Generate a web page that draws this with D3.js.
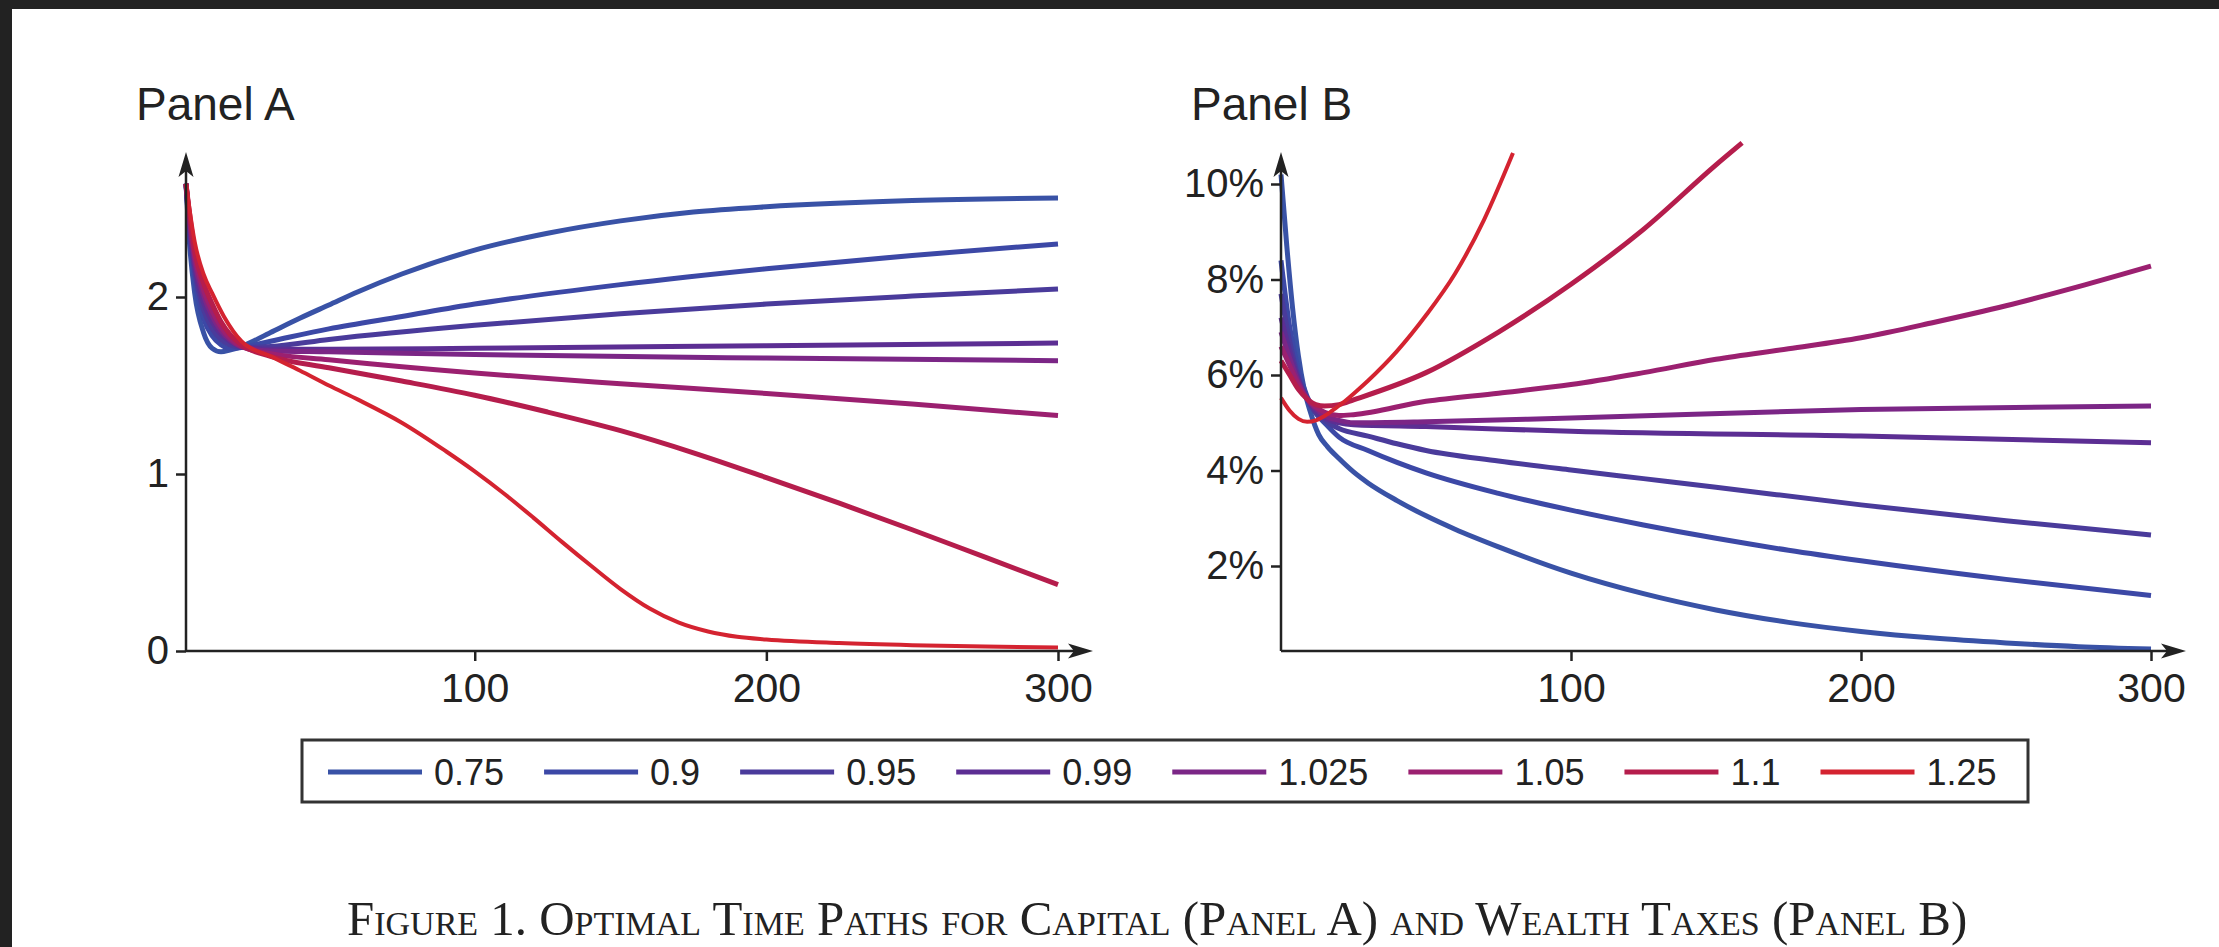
<!DOCTYPE html>
<html><head><meta charset="utf-8">
<script src="https://cdn.jsdelivr.net/npm/d3@7"></script>
<style>
html,body{margin:0;padding:0;background:#fff;}
svg{display:block;}
</style></head>
<body>
<svg id="chart" width="2219" height="947"></svg>
<script>
// ---------- DATA ----------
const seriesNames = ["0.75","0.9","0.95","0.99","1.025","1.05","1.1","1.25"];
const seriesColors = ["#3952a6","#3c48a6","#4a3b9b","#5c2e93","#7b2686","#9b2070","#b51d4c","#d42330"];
const xTicks = [100,200,300];
const yTicksA = [0,1,2];
const yTicksALabels = ["0","1","2"];
const yTicksB = [2,4,6,8,10];
const yTicksBLabels = ["2%","4%","6%","8%","10%"];
const panelTitles = ["Panel A","Panel B"];
const captionText = "Figure 1. Optimal Time Paths for Capital (Panel A) and Wealth Taxes (Panel B)";

// Panel A: capital tax paths [t, value]
const a075 = [[1,2.64],[2,2.35],[4,2.02],[7,1.80],[10,1.71],[13,1.69],[16,1.70],[20,1.72],[30,1.80],[40,1.88],[50,1.955],[60,2.03],[75,2.13],[100,2.265],[125,2.36],[150,2.43],[175,2.48],[200,2.51],[250,2.545],[300,2.56]];
const a090 = [[1,2.64],[2,2.40],[4,2.10],[7,1.88],[10,1.78],[13,1.73],[16,1.71],[20,1.715],[30,1.75],[50,1.82],[75,1.89],[100,1.96],[150,2.07],[200,2.16],[250,2.235],[300,2.30]];
const a095 = [[1,2.64],[2,2.42],[4,2.14],[7,1.93],[10,1.82],[13,1.76],[16,1.73],[20,1.715],[30,1.72],[50,1.76],[100,1.84],[150,1.905],[200,1.96],[250,2.005],[300,2.045]];
const a099 = [[1,2.64],[2,2.44],[4,2.17],[7,1.97],[10,1.86],[13,1.79],[16,1.75],[20,1.72],[30,1.705],[50,1.705],[100,1.71],[200,1.725],[300,1.74]];
const a1025 = [[1,2.64],[2,2.46],[4,2.20],[7,2.01],[10,1.89],[13,1.81],[16,1.76],[20,1.72],[30,1.695],[50,1.69],[100,1.675],[200,1.655],[300,1.64]];
const a105 = [[1,2.64],[2,2.48],[4,2.23],[7,2.04],[10,1.92],[13,1.83],[16,1.77],[20,1.72],[30,1.68],[50,1.645],[100,1.57],[150,1.51],[200,1.455],[250,1.395],[300,1.33]];
const a110 = [[1,2.64],[2,2.50],[4,2.26],[7,2.08],[10,1.96],[13,1.86],[16,1.79],[20,1.73],[30,1.665],[50,1.60],[75,1.525],[100,1.445],[125,1.35],[150,1.245],[175,1.12],[200,0.98],[225,0.835],[250,0.685],[275,0.53],[300,0.375]];
const a125 = [[1,2.64],[2,2.52],[4,2.31],[7,2.13],[10,2.02],[14,1.89],[20,1.75],[30,1.665],[40,1.585],[50,1.50],[60,1.42],[75,1.29],[90,1.13],[100,1.015],[110,0.89],[120,0.755],[130,0.615],[140,0.48],[150,0.35],[160,0.24],[170,0.16],[180,0.11],[190,0.08],[200,0.065],[225,0.045],[250,0.033],[275,0.025],[300,0.02]];

// Panel B: wealth tax paths [t, percent]
const b075 = [[0,10.2],[2,8.7],[4,7.4],[6,6.4],[8,5.7],[10,5.25],[13,4.75],[16,4.5],[20,4.25],[25,3.97],[30,3.74],[40,3.37],[50,3.05],[60,2.77],[75,2.40],[100,1.85],[125,1.42],[150,1.08],[175,0.82],[200,0.63],[225,0.49],[250,0.39],[275,0.31],[300,0.26]];
const b090 = [[0,8.4],[3,7.0],[6,6.1],[9,5.55],[12,5.2],[15,5.0],[20,4.7],[30,4.42],[40,4.17],[50,3.95],[75,3.52],[100,3.17],[125,2.86],[150,2.58],[175,2.33],[200,2.11],[250,1.72],[300,1.38]];
const b095 = [[0,7.7],[3,6.7],[6,5.95],[9,5.5],[12,5.2],[15,5.05],[20,4.88],[30,4.72],[40,4.56],[50,4.42],[75,4.2],[100,4.01],[125,3.83],[150,3.65],[200,3.28],[250,2.95],[300,2.65]];
const b099 = [[0,7.2],[3,6.5],[6,5.9],[9,5.5],[12,5.25],[15,5.1],[20,5.0],[25,4.96],[50,4.92],[100,4.82],[200,4.72],[300,4.58]];
const b1025 = [[0,6.9],[3,6.35],[6,5.85],[9,5.5],[12,5.3],[15,5.15],[20,5.05],[25,5.0],[50,5.02],[100,5.1],[200,5.28],[300,5.35]];
const b105 = [[0,6.6],[3,6.2],[6,5.8],[9,5.5],[12,5.33],[15,5.22],[20,5.15],[25,5.17],[50,5.45],[75,5.62],[100,5.8],[125,6.05],[150,6.33],[175,6.55],[200,6.78],[225,7.1],[250,7.45],[275,7.85],[300,8.28]];
const b110 = [[0,6.3],[3,6.0],[6,5.7],[9,5.5],[12,5.38],[15,5.35],[20,5.38],[25,5.48],[50,6.05],[75,6.9],[100,7.9],[125,9.05],[150,10.4],[159,10.86]];
const b125 = [[0,5.52],[3,5.25],[6,5.08],[9,5.02],[12,5.05],[15,5.14],[18,5.27],[22,5.45],[26,5.66],[30,5.88],[40,6.5],[50,7.25],[60,8.12],[70,9.25],[80,10.65]];

const panelAData = [a075,a090,a095,a099,a1025,a105,a110,a125];
const panelBData = [b075,b090,b095,b099,b1025,b105,b110,b125];

// ---------- DRAW ----------
const svg = d3.select("#chart");
const ink = "#222";
const sans = "'Liberation Sans', Arial, Helvetica, sans-serif";

// dark frame of screenshot
svg.append("rect").attr("x",0).attr("y",0).attr("width",2219).attr("height",9).attr("fill","#222");
svg.append("rect").attr("x",0).attr("y",0).attr("width",12).attr("height",947).attr("fill","#222");

function arrowUp(g, x, y){
  g.append("path").attr("d",`M${x},${y} L${x-7.5},${y+25} L${x},${y+19} L${x+7.5},${y+25} Z`).attr("fill",ink);
}
function arrowRight(g, x, y){
  g.append("path").attr("d",`M${x},${y} L${x-25},${y-7.5} L${x-19},${y} L${x-25},${y+7.5} Z`).attr("fill",ink);
}

function drawPanel(cfg){
  const g = svg.append("g");
  const x = d3.scaleLinear().domain(cfg.xDomain).range(cfg.xRange);
  const y = d3.scaleLinear().domain(cfg.yDomain).range(cfg.yRange);
  const x0 = cfg.xRange[0], y0 = cfg.yRange[0];

  g.append("text").attr("x",cfg.titleX).attr("y",120).attr("font-family",sans)
    .attr("font-size",46).attr("fill",ink).text(cfg.title);

  const line = d3.line().x(d=>x(d[0])).y(d=>y(d[1])).curve(d3.curveMonotoneX);
  cfg.data.forEach((s,i)=>{
    g.append("path").datum(s).attr("d",line).attr("fill","none")
      .attr("stroke",seriesColors[i]).attr("stroke-width",i===7?4:5)
      .attr("stroke-linejoin","round").attr("stroke-linecap","butt");
  });

  const xAxis = d3.axisBottom(x).tickValues(xTicks).tickSize(10).tickPadding(12).tickFormat(d3.format("d"));
  const xg = g.append("g").attr("transform",`translate(0,${y0})`).call(xAxis);
  xg.select(".domain").remove();
  xg.selectAll("line").attr("stroke",ink).attr("stroke-width",2.5);
  xg.selectAll("text").attr("font-family",sans).attr("font-size",41).attr("fill",ink);

  const yAxis = d3.axisLeft(y).tickValues(cfg.yTicks).tickSize(10).tickPadding(7)
    .tickFormat((d,i)=>cfg.yLabels[i]);
  const yg = g.append("g").attr("transform",`translate(${x0},0)`).call(yAxis);
  yg.select(".domain").remove();
  yg.selectAll("line").attr("stroke",ink).attr("stroke-width",2.5);
  yg.selectAll("text").attr("font-family",sans).attr("font-size",40).attr("fill",ink);

  g.append("line").attr("x1",x0).attr("x2",x0).attr("y1",y0).attr("y2",170)
    .attr("stroke",ink).attr("stroke-width",2.5);
  g.append("line").attr("x1",x0).attr("x2",cfg.arrowX-15).attr("y1",y0).attr("y2",y0)
    .attr("stroke",ink).attr("stroke-width",2.5);
  arrowUp(g, x0, 152);
  arrowRight(g, cfg.arrowX, y0);
}

drawPanel({title:panelTitles[0], titleX:136, data:panelAData,
  xDomain:[1,300], xRange:[186,1058], yDomain:[0,2], yRange:[651,297],
  yTicks:yTicksA, yLabels:yTicksALabels, arrowX:1093});
drawPanel({title:panelTitles[1], titleX:1191, data:panelBData,
  xDomain:[0,300], xRange:[1281,2151], yDomain:[0.22,10], yRange:[651,184],
  yTicks:yTicksB, yLabels:yTicksBLabels, arrowX:2186});

// legend
const leg = svg.append("g");
leg.append("rect").attr("x",302).attr("y",740).attr("width",1726).attr("height",62)
  .attr("fill","#fff").attr("stroke","#333").attr("stroke-width",3);
let lx = 328;
const ly = 772;
seriesNames.forEach((n,i)=>{
  leg.append("line").attr("x1",lx).attr("x2",lx+94).attr("y1",ly).attr("y2",ly)
    .attr("stroke",seriesColors[i]).attr("stroke-width",5);
  const t = leg.append("text").attr("x",lx+106).attr("y",ly+13).attr("font-family",sans)
    .attr("font-size",36).attr("fill",ink).text(n);
  lx += 106 + t.node().getComputedTextLength() + 40;
});

// caption
const cap = svg.append("text").attr("x",347).attr("y",935)
  .attr("font-family","'Liberation Serif','Times New Roman',serif")
  .attr("font-size",36).attr("fill","#222").style("font-variant","small-caps").text(captionText);
const w = cap.node().getComputedTextLength();
cap.attr("font-size", 36*1620/w);
</script>
</body></html>
